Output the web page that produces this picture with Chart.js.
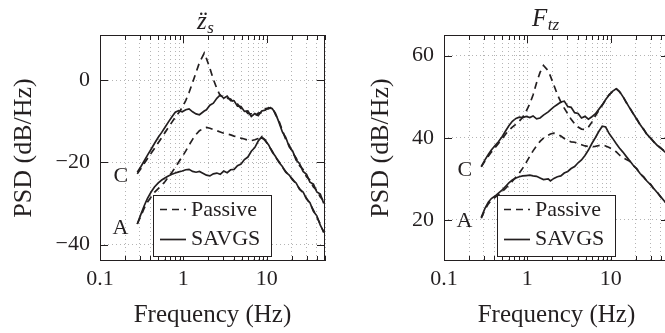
<!DOCTYPE html>
<html><head><meta charset="utf-8">
<script src="https://cdn.jsdelivr.net/npm/chart.js@4.4.1/dist/chart.umd.min.js"></script>
<style>
html,body{margin:0;padding:0;background:#fff;overflow:hidden;width:665px;height:333px;}
#wrap{position:relative;width:665px;height:333px;overflow:hidden;background:#fff;}
#c1{position:absolute;left:0;top:0;}
#c2{position:absolute;left:335px;top:0;}
</style></head><body>
<div id="wrap"><canvas id="c1" width="335" height="333"></canvas><canvas id="c2" width="345" height="333"></canvas></div>
<script>
// ---- data ----
const freqHz = [0.28,0.31,0.34,0.37,0.41,0.45,0.50,0.55,0.60,0.66,0.73,0.80,0.88,0.97,1.07,1.17,1.29,1.42,1.56,1.78,1.89,2.08,2.29,2.52,2.77,3.05,3.35,3.69,4.06,4.46,4.91,5.40,5.94,6.53,7.19,7.91,8.70,9.57,10.5,11.6,12.7,14.0,15.4,16.9,18.6,20.5,22.5,24.8,27.3,30.0,33.0,36.3,39.9,43.9,48.3];

// left panel: body acceleration z_s'' (dB/Hz)
const zsPassiveC = [-22.8,-21.5,-20.2,-19.1,-17.8,-16.6,-15.2,-14.0,-12.8,-11.5,-10.2,-9.0,-7.9,-6.6,-4.9,-3.0,-0.6,1.9,4.3,6.6,5.3,2.9,0.2,-2.0,-3.8,-3.9,-4.4,-4.6,-5.5,-5.8,-6.9,-7.1,-8.1,-8.2,-8.8,-8.0,-7.9,-6.9,-7.0,-6.5,-8.3,-9.9,-12.2,-14.4,-15.8,-17.7,-18.9,-20.8,-21.7,-23.5,-24.3,-26.0,-26.8,-28.4,-29.4];
const zsSavgsC   = [-22.4,-21.0,-19.6,-18.3,-16.8,-15.4,-13.9,-12.7,-11.5,-10.2,-8.9,-7.8,-7.4,-7.7,-7.2,-7.0,-7.7,-8.2,-8.4,-7.5,-7.2,-6.1,-5.6,-4.4,-3.6,-4.4,-3.9,-5.0,-5.0,-6.3,-6.4,-7.6,-7.5,-8.8,-8.1,-8.6,-7.5,-7.3,-6.7,-6.9,-8.0,-10.2,-12.6,-13.9,-16.2,-17.3,-19.4,-20.3,-22.2,-22.9,-24.8,-25.3,-27.2,-27.7,-30.0];
const zsPassiveA = [-35.0,-33.0,-31.1,-29.7,-28.4,-27.3,-26.4,-25.6,-24.7,-23.6,-22.4,-21.2,-19.9,-18.6,-17.2,-15.8,-14.4,-13.2,-12.3,-11.6,-11.5,-11.7,-12.0,-12.3,-12.6,-12.9,-13.1,-13.3,-13.6,-13.8,-14.1,-14.3,-14.6,-14.7,-14.5,-14.2,-13.9,-14.5,-15.9,-17.2,-18.7,-19.8,-21.2,-22.2,-23.3,-24.1,-25.3,-26.4,-27.5,-28.7,-30.1,-31.6,-33.3,-35.0,-37.1];
const zsSavgsA   = [-35.0,-32.6,-30.5,-28.8,-27.2,-26.0,-25.0,-24.3,-23.8,-23.3,-22.9,-22.6,-22.3,-22.1,-21.8,-21.7,-22.2,-22.4,-22.2,-22.8,-23.1,-23.3,-22.8,-22.6,-22.9,-22.1,-22.5,-21.8,-21.7,-20.8,-20.4,-19.3,-18.7,-17.3,-16.4,-14.8,-13.8,-14.7,-15.7,-17.4,-18.5,-20.0,-21.0,-22.4,-23.1,-24.3,-25.0,-26.6,-27.2,-28.9,-29.8,-31.9,-33.0,-35.3,-36.9];

// right panel: tyre force F_tz (dB/Hz)
const ftzPassiveC = [32.9,34.3,35.5,36.5,37.6,38.6,39.8,40.9,41.8,42.6,43.3,44.0,45.0,46.5,48.3,50.4,53.4,55.9,57.6,56.3,55.0,52.8,50.5,48.7,47.2,45.8,44.5,43.4,42.6,42.1,42.0,42.6,43.8,45.3,46.6,47.9,49.2,50.5,51.2,52.0,51.2,50.1,48.5,47.3,45.8,44.6,43.1,42.1,40.7,40.0,38.9,38.2,37.4,36.8,35.9];
const ftzSavgsC   = [33.0,34.6,35.9,37.0,38.1,39.0,40.3,41.7,42.9,44.0,44.7,45.0,44.9,45.2,44.9,45.3,44.6,44.8,45.5,46.3,46.8,47.5,48.1,48.7,48.9,47.6,47.4,46.1,45.9,44.8,45.2,44.5,45.1,45.8,46.9,48.0,49.3,50.4,51.3,51.9,51.3,50.0,48.6,47.2,45.9,44.5,43.2,42.0,40.8,39.9,39.0,38.1,37.5,36.7,36.0];
const ftzPassiveA = [20.4,22.5,23.9,24.8,25.5,26.1,26.9,27.7,28.5,29.4,30.4,31.4,32.6,34.0,35.5,36.8,38.0,39.1,39.9,40.6,40.9,41.1,40.9,40.4,39.8,39.3,39.0,38.9,38.6,38.3,38.0,37.9,37.8,37.9,38.1,38.2,38.0,37.6,37.2,36.6,35.8,35.1,34.7,34.3,33.2,32.5,31.2,30.5,29.3,28.7,27.5,26.7,25.5,24.7,23.5];
const ftzSavgsA   = [20.6,22.8,24.3,25.2,25.8,26.5,27.3,28.2,29.0,29.7,30.2,30.5,30.7,30.8,30.9,30.7,30.6,30.2,29.8,30.0,29.5,30.1,30.5,30.7,31.4,31.8,32.5,33.0,33.9,34.6,35.7,37.0,38.6,40.0,41.5,42.8,42.6,41.0,39.9,38.6,37.5,36.5,35.4,34.4,33.3,32.4,31.3,30.4,29.4,28.6,27.6,26.6,25.6,24.6,23.6];

// ticks and labels
const xTickValues = [0.1,0.2,0.3,0.4,0.5,0.6,0.7,0.8,0.9,1,2,3,4,5,6,7,8,9,10,20,30,40,50];
const xMajorTicks = [0.1, 1, 10];
const zsYTicks  = [-40, -20, 0];
const ftzYTicks = [20, 40, 60];
const legendNames = ['Passive', 'SAVGS'];
const roadClassNames = ['C', 'A'];
const axisTitleX = 'Frequency (Hz)';
const axisTitleY = 'PSD (dB/Hz)';

// ---- styling ----
const INK = '#231f20';
const GRID = '#b4b4b4';
const FONT = '"Liberation Serif", "Times New Roman", serif';
const DASH = [7, 5];

function series(vals) { return freqHz.map((f, i) => ({x: f, y: vals[i]})); }
function fmtX(v) {
  for (const m of xMajorTicks) if (Math.abs(v - m) < 1e-9) return String(m);
  return '';
}
function fmtY(v) { return v < 0 ? '\u2212' + Math.abs(v) : String(v); }

function panel(canvasId, cfg) {
  const decor = {
    id: 'decor_' + canvasId,
    afterDraw(chart) {
      const ctx = chart.ctx;
      const ca = chart.chartArea;
      const xs = chart.scales.x, ys = chart.scales.y;
      ctx.save();
      // frame
      ctx.strokeStyle = INK; ctx.lineWidth = 1; ctx.setLineDash([]);
      ctx.strokeRect(Math.round(ca.left) + 0.5, Math.round(ca.top) + 0.5,
                     Math.round(ca.right - ca.left) - 1, Math.round(ca.bottom - ca.top) - 1);
      // inward tick marks
      ctx.beginPath();
      xTickValues.forEach(v => {
        const px = Math.round(xs.getPixelForValue(v)) + 0.5;
        const len = xMajorTicks.includes(v) ? 8 : 5;
        ctx.moveTo(px, ca.bottom); ctx.lineTo(px, ca.bottom - len);
        ctx.moveTo(px, ca.top); ctx.lineTo(px, ca.top + len);
      });
      cfg.yTicks.forEach(v => {
        const py = Math.round(ys.getPixelForValue(v)) + 0.5;
        ctx.moveTo(ca.left, py); ctx.lineTo(ca.left + 8, py);
        ctx.moveTo(ca.right, py); ctx.lineTo(ca.right - 8, py);
      });
      ctx.stroke();

      // road class labels next to first point of each pair
      ctx.fillStyle = INK;
      ctx.font = '22px ' + FONT;
      ctx.textAlign = 'right'; ctx.textBaseline = 'alphabetic';
      [[cfg.savgsC, roadClassNames[0]], [cfg.savgsA, roadClassNames[1]]].forEach(([arr, name]) => {
        const px = xs.getPixelForValue(freqHz[0]);
        const py = ys.getPixelForValue(arr[0]);
        ctx.fillText(name, px - 9, py + 9.5);
      });

      // legend
      const lx = cfg.legendX, ly = 195.5, lw = 118, lh = 61;
      ctx.fillStyle = '#fff';
      ctx.fillRect(lx, ly, lw, lh);
      ctx.strokeStyle = INK; ctx.lineWidth = 1;
      ctx.strokeRect(lx + 0.5, ly, lw, lh);
      const ds = chart.data.datasets;
      const rows = [[ds[0], legendNames[0], 209.5, 215.5], [ds[1], legendNames[1], 239.5, 245]];
      rows.forEach(([d, name, lineY, baseY]) => {
        ctx.strokeStyle = d.borderColor; ctx.lineWidth = d.borderWidth;
        ctx.setLineDash(d.borderDash || []);
        ctx.beginPath(); ctx.moveTo(lx + 7, lineY); ctx.lineTo(lx + 33, lineY); ctx.stroke();
        ctx.setLineDash([]);
        ctx.fillStyle = INK; ctx.font = '22px ' + FONT; ctx.textAlign = 'left';
        ctx.fillText(name, lx + 38, baseY);
      });

      // panel title with subscript
      ctx.fillStyle = INK; ctx.textAlign = 'left';
      ctx.font = 'italic 25px ' + FONT;
      ctx.fillText(cfg.titleMain, cfg.titleX, cfg.titleBase);
      const wMain = ctx.measureText(cfg.titleMain).width;
      if (cfg.titleAccent) {
        ctx.textAlign = 'center';
        ctx.font = '25px ' + FONT;
        ctx.fillText(cfg.titleAccent, cfg.titleX + wMain / 2 + 1.5, cfg.titleBase);
        ctx.textAlign = 'left';
      }
      ctx.font = 'italic 17px ' + FONT;
      ctx.fillText(cfg.titleSub, cfg.titleX + wMain + 0.5, cfg.titleBase + 4);
      ctx.restore();
    }
  };

  const line = (arr, dashed) => ({
    data: series(arr), borderColor: INK, borderWidth: 1.7,
    borderDash: dashed ? DASH : [], pointRadius: 0, fill: false, tension: 0
  });

  return new Chart(document.getElementById(canvasId), {
    type: 'line',
    data: { datasets: [
      Object.assign(line(cfg.passiveC, true), {label: legendNames[0] + ' C'}),
      Object.assign(line(cfg.savgsC, false), {label: legendNames[1] + ' C'}),
      Object.assign(line(cfg.passiveA, true), {label: legendNames[0] + ' A'}),
      Object.assign(line(cfg.savgsA, false), {label: legendNames[1] + ' A'})
    ]},
    options: {
      responsive: false, animation: false, devicePixelRatio: 1, events: [],
      layout: { padding: { left: 0, right: cfg.padRight, top: 35, bottom: 0 } },
      plugins: { legend: { display: false }, title: { display: false }, tooltip: { enabled: false } },
      scales: {
        x: {
          type: 'logarithmic', min: 0.1, max: 50,
          afterBuildTicks(s) { s.ticks = xTickValues.map(v => ({value: v})); },
          afterFit(s) { s.height = 72; },
          grid: { color: GRID, lineWidth: 1, drawTicks: false },
          border: { display: false, dash: [1, 3] },
          ticks: { autoSkip: false, maxRotation: 0, minRotation: 0, padding: 5, color: INK,
                   font: { family: FONT, size: 22 }, callback: (v) => fmtX(v) },
          title: { display: true, text: axisTitleX, color: INK, font: { family: FONT, size: 25 },
                   padding: { top: 0, bottom: 3 } }
        },
        y: {
          type: 'linear', min: cfg.yMin, max: cfg.yMax,
          afterBuildTicks(s) { s.ticks = cfg.yTicks.map(v => ({value: v})); },
          afterFit(s) { s.width = cfg.yAxisWidth; },
          grid: { color: GRID, lineWidth: 1, drawTicks: false },
          border: { display: false, dash: [1, 3] },
          ticks: { padding: 10, color: INK, font: { family: FONT, size: 22 }, callback: (v) => fmtY(v) },
          title: { display: true, text: axisTitleY, color: INK, font: { family: FONT, size: 26 },
                   padding: { top: cfg.yTitlePad, bottom: 0 } }
        }
      }
    },
    plugins: [decor]
  });
}

panel('c1', {
  passiveC: zsPassiveC, savgsC: zsSavgsC, passiveA: zsPassiveA, savgsA: zsSavgsA,
  yMin: -44, yMax: 11, yTicks: zsYTicks, yAxisWidth: 100, padRight: 10, yTitlePad: 8.5,
  legendX: 153, titleMain: 'z', titleAccent: '\u00A8', titleSub: 's', titleX: 197, titleBase: 29
});
panel('c2', {
  passiveC: ftzPassiveC, savgsC: ftzSavgsC, passiveA: ftzPassiveA, savgsA: ftzSavgsA,
  yMin: 10, yMax: 65, yTicks: ftzYTicks, yAxisWidth: 109, padRight: 11, yTitlePad: 30.5,
  legendX: 162, titleMain: 'F', titleAccent: '', titleSub: 'tz', titleX: 197, titleBase: 25.5
});
</script>
</body></html>
